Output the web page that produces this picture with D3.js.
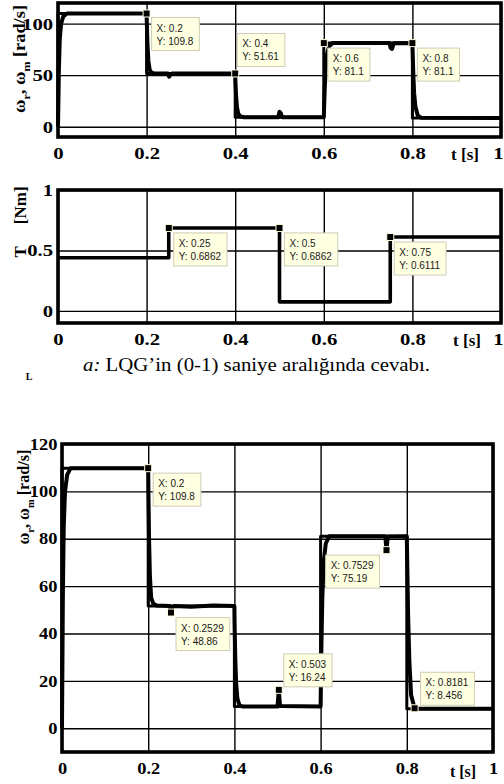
<html>
<head>
<script src="https://d3js.org/d3.v7.min.js"></script>
<style>
  body{margin:0;background:#fff;}
  svg text{font-family:"Liberation Serif","Times New Roman",serif;}
</style>
</head>
<body>
<script>
// ---- data ----
// panel a: speed response, 0-1 s
const tSpeedA=[0,0.002,0.004,0.007,0.012,0.02,0.2,0.2005,0.202,0.204,0.207,0.212,0.22,0.248,0.251,0.254,0.258,0.4,0.4005,0.402,0.404,0.407,0.412,0.42,0.497,0.5,0.503,0.506,0.6,0.6005,0.602,0.604,0.607,0.612,0.62,0.748,0.751,0.754,0.758,0.8,0.8005,0.802,0.804,0.807,0.812,0.82,1];
const wSpeedA=[0,55,85,100,107,109.8,109.8,100,80,64,55,52.2,51.6,51.6,48.5,50.5,51.6,51.6,44,30,19,12.5,9.8,9.2,9.2,14.5,13,9.2,9.2,16,36,55,70,78,81.1,81.1,76.5,75.5,81,81.1,74,52,32,19,11,8.6,8.4];
// reference speed (steps)
const tRef=[0,0,0.2,0.2,0.4,0.4,0.6,0.6,0.8,0.8,1];
const wRef=[0,109.8,109.8,51.6,51.6,9.2,9.2,81.1,81.1,8.4,8.4];
// panel a: load torque
const tTorque=[0,0.25,0.25,0.5,0.5,0.75,0.75,1];
const torque=[0.44,0.44,0.6862,0.6862,0.075,0.075,0.6111,0.6111];
// panel b: speed response
const tSpeedB=[0,0.002,0.004,0.007,0.012,0.02,0.2,0.2005,0.202,0.204,0.207,0.212,0.22,0.25,0.2529,0.256,0.26,0.3,0.35,0.4,0.4005,0.402,0.404,0.407,0.412,0.42,0.5,0.503,0.506,0.6,0.6005,0.602,0.604,0.607,0.612,0.62,0.75,0.7529,0.756,0.8,0.801,0.803,0.806,0.81,0.8181,0.83,1];
const wSpeedB=[0,55,85,100,107,109.8,109.8,100,80,64,55,52.5,51.8,51.6,48.86,51,51.6,51.3,51.8,51.6,44,30,19,12.5,9.6,9.2,9.2,16.24,9.4,9.2,16,36,55,70,78,81.1,81.1,75.19,81,81.1,70,48,28,14,8.456,8.3,8.3];
const wRefB=[0,109.8,109.8,51.6,51.6,9.2,9.2,81.1,81.1,8.3,8.3];

// data tips
const tipXA=[0.2,0.4,0.6,0.8];
const tipYA=[109.8,51.61,81.1,81.1];
const tipXT=[0.25,0.5,0.75];
const tipYT=[0.6862,0.6862,0.6111];
const tipXB=[0.2,0.2529,0.503,0.7529,0.8181];
const tipYB=[109.8,48.86,16.24,75.19,8.456];

// ticks
const xTicks=[0,0.2,0.4,0.6,0.8,1];
const xTickLabels=["0","0.2","0.4","0.6","0.8","1"];
const yTicksA=[0,50,100];
const yTicksT=[0,0.5,1];
const yTickLabelsT=["0","0.5","1"];
const yTicksB=[0,20,40,60,80,100,120];

const caption="LQG\u2019in (0-1) saniye aral\u0131\u011f\u0131nda cevab\u0131.";

// ---- drawing ----
const svg=d3.select('body').append('svg').attr('width',504).attr('height',784);

function panel(o){
  const x=d3.scaleLinear().domain([0,1]).range([o.left,o.right]);
  const y=d3.scaleLinear().domain(o.yDomain).range([o.bottom,o.top]);
  const g=svg.append('g');
  const w=o.right-o.left, h=o.bottom-o.top;

  // grid + tick labels
  const gx=g.append('g').attr('transform','translate(0,'+o.bottom+')')
    .call(d3.axisBottom(x).tickValues(xTicks).tickFormat((d,i)=>xTickLabels[i]).tickSize(-h).tickPadding(o.xPad));
  const gy=g.append('g').attr('transform','translate('+o.left+',0)')
    .call(d3.axisLeft(y).tickValues(o.yTicks).tickFormat((d,i)=>o.yLabels[i]).tickSize(-w).tickPadding(4));
  [gx,gy].forEach(a=>{
    a.select('.domain').remove();
    a.selectAll('line').attr('stroke','#000').attr('stroke-width',1.4);
    a.selectAll('text').attr('fill','#000').attr('font-size',o.fs).attr('font-weight','bold')
      .style('font-family','"Liberation Serif","Times New Roman",serif')
      .attr('transform','scale('+o.sx+',1)');
  });
  // last x label sits against the page edge
  if(o.lastEnd){
    gx.selectAll('.tick text').filter((d,i)=>i===xTicks.length-1)
      .attr('text-anchor','end').attr('x',(503-o.right)/o.sx);
  }

  const line=d3.line().x(d=>x(d[0])).y(d=>y(d[1]));
  o.series.forEach(s=>{
    g.append('path').datum(d3.zip(s.t,s.v)).attr('d',line)
      .attr('fill','none').attr('stroke','#000').attr('stroke-width',s.sw)
      .attr('stroke-linejoin','round');
  });

  g.append('rect').attr('x',o.left).attr('y',o.top).attr('width',w).attr('height',h)
    .attr('fill','none').attr('stroke','#000').attr('stroke-width',3.6);

  // x label
  g.append('text').attr('x',o.tsx).attr('y',o.tsy).attr('text-anchor','middle')
    .attr('font-size',o.fs).attr('font-weight','bold').text('t [s]');

  // data tips
  o.tipX.forEach((tx,i)=>{
    const mx=x(tx), my=y(o.tipY[i]);
    const off=o.tipOff[i];
    const tg=g.append('g');
    const bx=tg.append('rect');
    const l1=tg.append('text').text('X: '+tx);
    const l2=tg.append('text').text('Y: '+o.tipY[i]);
    [l1,l2].forEach(t=>t.attr('font-size',10).attr('fill','#1a1a1a')
      .style('font-family','"Liberation Sans",Arial,sans-serif'));
    const tw=Math.max(l1.node().getComputedTextLength(),l2.node().getComputedTextLength());
    const bw=tw+11, bh=33;
    const left=off[0]>=0?mx+off[0]:mx+off[0]-bw;
    const top=off[1]>=0?my+off[1]:my+off[1]-bh;
    bx.attr('x',left).attr('y',top).attr('width',bw).attr('height',bh)
      .attr('fill','#ffffe1').attr('stroke','#cfcbb4').attr('stroke-width',1);
    l1.attr('x',left+5).attr('y',top+14);
    l2.attr('x',left+5).attr('y',top+27);
    tg.append('rect').attr('x',mx-3.5).attr('y',my-3.5).attr('width',7).attr('height',7)
      .attr('fill','#000').attr('stroke','#fffbe0').attr('stroke-width',1);
  });
  return g;
}

function yLabel(x,y,fs,len,parts){
  const t=svg.append('text').attr('transform','translate('+x+','+y+') rotate(-90)')
    .attr('text-anchor','middle').attr('font-size',fs).attr('font-weight','bold');
  parts.forEach(p=>{
    const s=t.append('tspan').text(p[0]);
    if(p[1]==='sub') s.attr('font-size',fs*0.65).attr('dy',fs*0.3);
    if(p[1]==='up') s.attr('dy',-fs*0.3);
    if(p[2]) s.attr('dx',p[2]);
  });
  if(len) t.attr('textLength',len).attr('lengthAdjust','spacingAndGlyphs');
}

panel({left:58,right:501,top:3,bottom:137,yDomain:[-10,120],yTicks:yTicksA,yLabels:yTicksA.map(String),
  fs:17,sx:1.22,xPad:10,tsx:465,tsy:160,lastEnd:true,
  series:[{t:tRef,v:wRef,sw:3},{t:tSpeedA,v:wSpeedA,sw:4}],
  tipX:tipXA,tipY:tipYA,tipOff:[[5,4],[2,-7],[4,5],[5,5]]});
yLabel(25,59,17,108,[['ω'],['r','sub'],[', ω','up'],['m','sub'],[' [rad/s]','up']]);

panel({left:58,right:501,top:190,bottom:323,yDomain:[-0.1,1],yTicks:yTicksT,yLabels:yTickLabelsT,
  fs:17,sx:1.22,xPad:10,tsx:467,tsy:346,lastEnd:true,
  series:[{t:tTorque,v:torque,sw:3.6}],
  tipX:tipXT,tipY:tipYT,tipOff:[[5,5],[5,5],[4,5]]});
yLabel(26,222,17,0,[['T'],['[Nm]',null,22]]);

// caption
const cap=svg.append('text').attr('x',83).attr('y',371).attr('font-size',18)
  .attr('textLength',347).attr('lengthAdjust','spacingAndGlyphs');
cap.append('tspan').attr('font-style','italic').text('a:');
cap.append('tspan').text(' '+caption);
svg.append('text').attr('x',29).attr('y',380).attr('font-size',10).attr('font-weight','bold')
  .attr('text-anchor','middle').text('L');

panel({left:62,right:493,top:444,bottom:752,yDomain:[-10,120],yTicks:yTicksB,yLabels:yTicksB.map(String),
  fs:16,sx:1.15,xPad:11,tsx:463,tsy:777,lastEnd:false,
  series:[{t:tRef,v:wRefB,sw:3},{t:tSpeedB,v:wSpeedB,sw:4}],
  tipX:tipXB,tipY:tipYB,tipOff:[[5,5],[5,5],[5,-3],[-7,5],[6,-3]]});
yLabel(29,497,16,95,[['ω'],['r','sub'],[', ω','up'],['m','sub'],[' [rad/s]','up']]);
</script>
</body>
</html>
